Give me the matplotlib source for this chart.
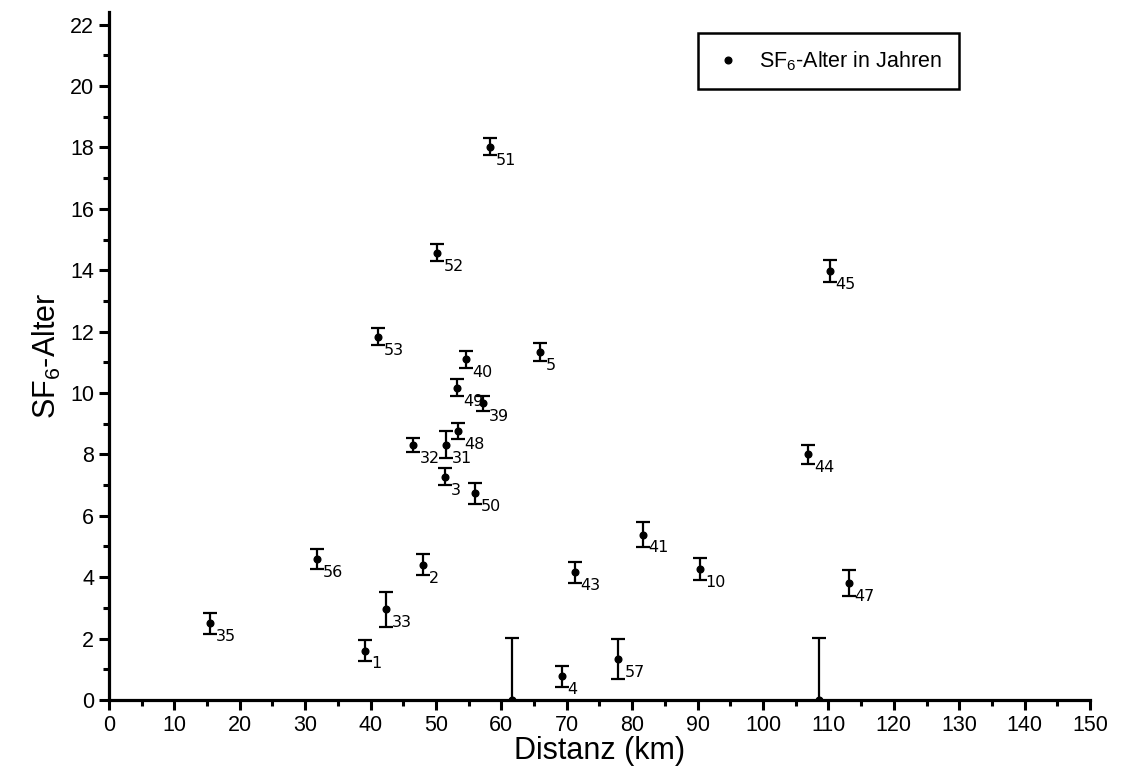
import matplotlib
matplotlib.use("Agg")
import matplotlib.pyplot as plt
from matplotlib.ticker import MultipleLocator
from matplotlib.lines import Line2D

plt.rcParams['font.family'] = ['Liberation Sans', 'DejaVu Sans']
plt.rcParams['mathtext.fontset'] = 'custom'
plt.rcParams['mathtext.rm'] = 'Liberation Sans'
plt.rcParams['mathtext.it'] = 'Liberation Sans:italic'

# Data: sample number, distance (km), SF6 age (years), error
labels = ['35', '56', '1', '33', '2', '32', '31', '3', '48', '49', '40', '39', '50',
          '53', '52', '51', '5', '4', '43', '57', '41', '10', '44', '45', '47']
dist = [15.4, 31.8, 39.2, 42.35, 47.97, 46.55, 51.5, 51.4, 53.4, 53.25, 54.65, 57.2, 56.0,
        41.1, 50.2, 58.3, 65.9, 69.2, 71.2, 77.9, 81.6, 90.3, 106.95, 110.2, 113.1]
age = [2.50, 4.59, 1.61, 2.95, 4.40, 8.31, 8.31, 7.27, 8.76, 10.17, 11.10, 9.66, 6.73,
       11.83, 14.57, 18.02, 11.33, 0.77, 4.16, 1.33, 5.39, 4.27, 8.00, 13.97, 3.81]
err = [0.34, 0.32, 0.35, 0.56, 0.34, 0.23, 0.44, 0.28, 0.26, 0.28, 0.27, 0.24, 0.33,
       0.28, 0.27, 0.28, 0.30, 0.34, 0.34, 0.64, 0.42, 0.35, 0.30, 0.37, 0.41]

# unlabeled samples at zero age with large error
zero_dist = [61.7, 108.5]
zero_age = [0.0, 0.0]
zero_err = [2.03, 2.03]

fig = plt.figure(figsize=(11.22, 7.78), dpi=100)
ax = fig.add_axes([0.0971, 0.1003, 0.8744, 0.8838])

eb_kw = dict(fmt='o', color='black', markersize=4.8, elinewidth=1.6,
             capsize=4.8, capthick=1.6, ecolor='black')
ax.errorbar(dist, age, yerr=err, **eb_kw)
ax.errorbar(zero_dist, zero_age, yerr=zero_err, **eb_kw)

for d, a, lab in zip(dist, age, labels):
    ax.annotate(lab, (d, a), xytext=(4.3, -9.6), textcoords='offset points',
                ha='left', va='center', fontsize=11.5, family='DejaVu Sans')

ax.set_xlim(0, 150)
ax.set_ylim(0, 22.4)
ax.xaxis.set_major_locator(MultipleLocator(10))
ax.xaxis.set_minor_locator(MultipleLocator(5))
ax.yaxis.set_minor_locator(MultipleLocator(1))
ax.set_yticks(range(0, 23, 2))

for s in ['top', 'right']:
    ax.spines[s].set_visible(False)
for s in ['left', 'bottom']:
    ax.spines[s].set_linewidth(2.3)

ax.tick_params(which='major', direction='out', length=7.5, width=2.2, labelsize=15.5, pad=3)
ax.tick_params(which='minor', direction='out', length=4.5, width=2.2)

ax.set_xlabel('Distanz (km)', fontsize=22, labelpad=0)
ax.set_ylabel('SF$_6$-Alter', fontsize=22, labelpad=5)

handle = Line2D([], [], linestyle='none', marker='o', color='black', markersize=4.8)
leg = ax.legend([handle], ['SF$_6$-Alter in Jahren'], loc='upper right',
                bbox_to_anchor=(0.866, 0.97), borderaxespad=0,
                numpoints=1, fontsize=15.5, fancybox=False, framealpha=1,
                edgecolor='black', handlelength=1.3, borderpad=0.75, handletextpad=0.8)
leg.get_frame().set_linewidth(1.8)

fig.savefig('out.png', dpi=100)
